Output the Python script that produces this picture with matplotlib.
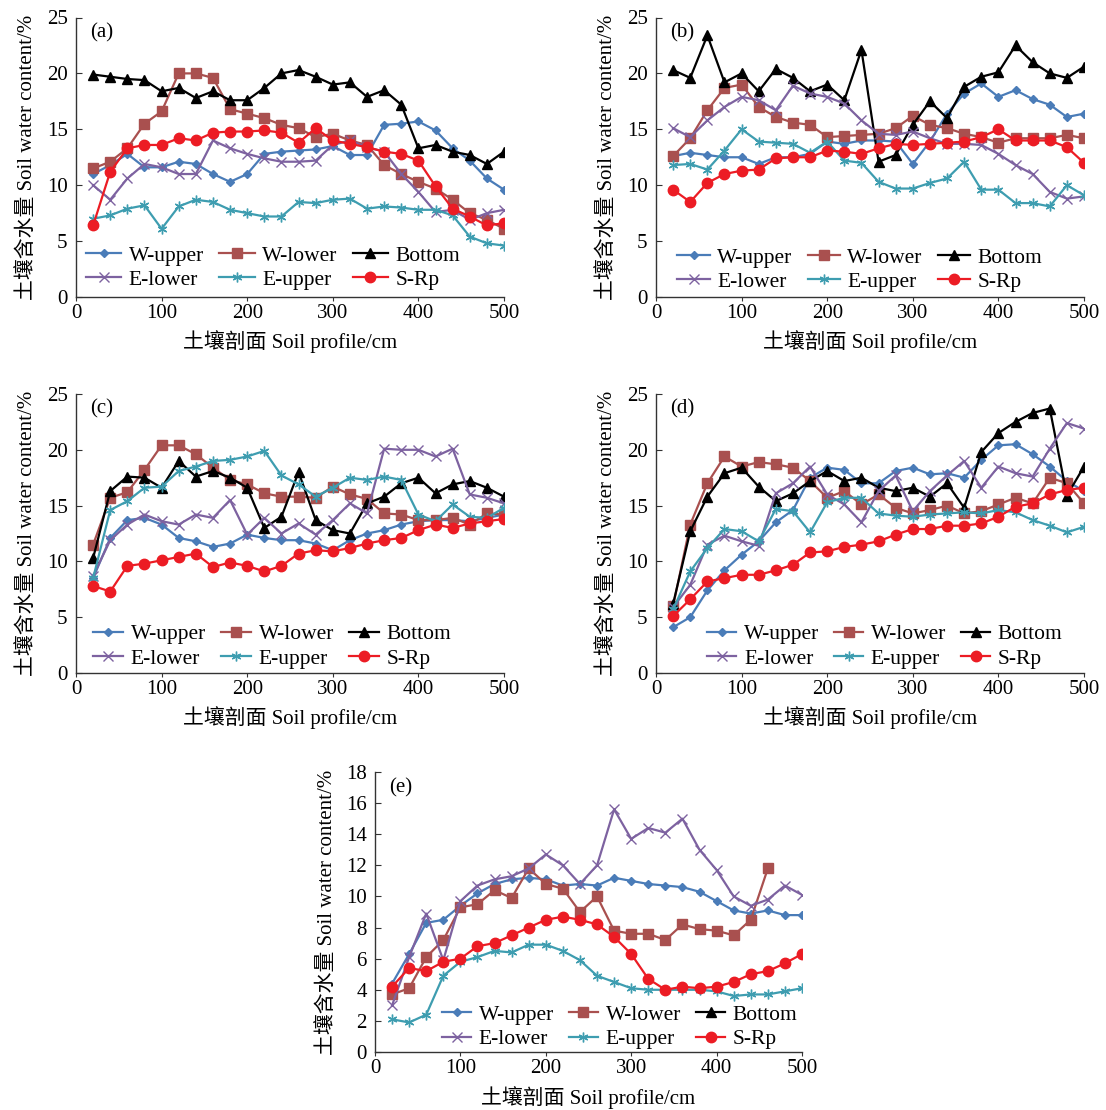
import matplotlib
matplotlib.use("Agg")
import matplotlib.pyplot as plt
import numpy as np

plt.rcParams['font.family'] = ['Liberation Serif', 'Noto Sans CJK SC', 'DejaVu Sans']
plt.rcParams['axes.unicode_minus'] = False

depth = [20, 40, 60, 80, 100, 120, 140, 160, 180, 200, 220, 240, 260, 280, 300,
         320, 340, 360, 380, 400, 420, 440, 460, 480, 500]

series_names = ["W-upper", "W-lower", "Bottom", "E-lower", "E-upper", "S-Rp"]

# Panel (a)
a_wu = [11.0, 11.8, 12.8, 11.6, 11.6, 12.1, 11.9, 11.0, 10.3, 11.0, 12.8, 13.0, 13.1, 13.2, 13.5, 12.7, 12.7, 15.4, 15.5, 15.7, 14.9, 13.3, 12.2, 10.6, 9.6]
a_wl = [11.5, 12.1, 13.3, 15.5, 16.6, 20.0, 20.0, 19.6, 16.8, 16.4, 16.0, 15.4, 15.1, 14.3, 14.6, 14.0, 13.6, 11.8, 11.0, 10.3, 9.7, 8.7, 7.5, 6.9, 6.1]
a_bt = [19.9, 19.7, 19.5, 19.4, 18.4, 18.7, 17.8, 18.4, 17.6, 17.6, 18.7, 20.0, 20.3, 19.7, 19.0, 19.2, 17.9, 18.5, 17.2, 13.3, 13.6, 13.0, 12.7, 11.9, 13.0]
a_el = [10.0, 8.7, 10.6, 11.9, 11.6, 11.0, 11.0, 14.0, 13.3, 12.8, 12.4, 12.1, 12.1, 12.2, 13.6, 14.0, 13.4, 13.0, 11.0, 9.4, 7.6, 7.8, 6.9, 7.5, 7.8]
a_eu = [7.0, 7.3, 7.9, 8.2, 6.1, 8.1, 8.7, 8.5, 7.8, 7.5, 7.2, 7.2, 8.5, 8.4, 8.7, 8.8, 7.9, 8.1, 8.0, 7.8, 7.8, 7.3, 5.4, 4.8, 4.6]
a_sr = [6.4, 11.2, 13.3, 13.6, 13.6, 14.2, 14.0, 14.7, 14.8, 14.8, 14.9, 14.7, 13.8, 15.1, 14.0, 13.7, 13.4, 13.0, 12.8, 12.2, 9.9, 7.9, 7.2, 6.4, 6.6]

# Panel (b)
b_wu = [12.6, 12.9, 12.7, 12.5, 12.5, 11.9, 12.5, 12.5, 12.8, 13.9, 13.7, 14.0, 14.0, 13.9, 11.9, 13.9, 16.4, 18.2, 19.1, 17.9, 18.5, 17.7, 17.2, 16.1, 16.4]
b_wl = [12.6, 14.2, 16.7, 18.7, 19.0, 17.0, 16.1, 15.6, 15.4, 14.3, 14.4, 14.5, 14.6, 15.1, 16.2, 15.4, 15.1, 14.6, 14.3, 13.8, 14.2, 14.2, 14.2, 14.5, 14.2]
b_bt = [20.3, 19.6, 23.4, 19.2, 20.0, 18.4, 20.4, 19.6, 18.4, 19.0, 17.6, 22.1, 12.1, 12.7, 15.4, 17.5, 16.0, 18.8, 19.7, 20.1, 22.5, 21.0, 20.0, 19.6, 20.6]
b_el = [15.1, 14.3, 15.8, 17.0, 17.9, 17.6, 16.7, 18.9, 18.2, 17.9, 17.3, 15.8, 14.6, 14.5, 14.8, 14.2, 13.7, 13.7, 13.6, 12.8, 11.8, 11.0, 9.4, 8.8, 9.0]
b_eu = [11.8, 11.9, 11.4, 13.1, 15.0, 13.9, 13.8, 13.7, 12.9, 13.9, 12.2, 12.0, 10.3, 9.7, 9.7, 10.2, 10.6, 12.1, 9.6, 9.6, 8.4, 8.4, 8.1, 10.0, 9.1]
b_sr = [9.6, 8.5, 10.2, 11.0, 11.3, 11.4, 12.4, 12.5, 12.5, 13.1, 13.0, 12.8, 13.3, 13.7, 13.6, 13.7, 13.8, 13.9, 14.3, 15.0, 14.0, 14.0, 14.0, 13.4, 12.0]

# Panel (c)
c_wu = [8.5, 12.1, 13.7, 13.9, 13.3, 12.1, 11.8, 11.3, 11.6, 12.4, 12.1, 11.9, 11.9, 11.6, 11.0, 11.9, 12.5, 12.8, 13.3, 13.6, 13.7, 13.7, 13.6, 13.9, 14.2]
c_wl = [11.5, 15.7, 16.2, 18.2, 20.4, 20.4, 19.6, 18.4, 17.3, 16.9, 16.1, 15.8, 15.8, 15.7, 16.7, 16.0, 15.6, 14.3, 14.2, 13.7, 13.7, 13.9, 13.3, 14.3, 14.2]
c_bt = [10.3, 16.3, 17.6, 17.5, 16.6, 19.0, 17.6, 18.1, 17.5, 16.6, 13.0, 14.0, 18.0, 13.7, 12.8, 12.5, 15.2, 15.8, 17.0, 17.5, 16.1, 16.9, 17.2, 16.6, 15.8]
c_el = [8.7, 11.9, 13.3, 14.2, 13.6, 13.3, 14.2, 13.9, 15.5, 12.4, 13.9, 12.5, 13.4, 12.4, 13.7, 15.2, 14.3, 20.1, 20.0, 20.0, 19.4, 20.1, 16.0, 15.7, 15.2]
c_eu = [8.5, 14.6, 15.4, 16.6, 16.7, 18.1, 18.5, 19.0, 19.1, 19.4, 19.9, 17.7, 16.9, 15.8, 16.6, 17.5, 17.3, 17.6, 17.3, 14.2, 13.6, 15.1, 14.0, 13.9, 14.8]
c_sr = [7.8, 7.3, 9.6, 9.8, 10.1, 10.4, 10.7, 9.5, 9.9, 9.6, 9.1, 9.6, 10.7, 11.0, 10.9, 11.2, 11.6, 11.9, 12.1, 12.8, 13.3, 13.0, 13.4, 13.6, 13.8]

# Panel (d)
d_wu = [4.1, 5.0, 7.4, 9.2, 10.6, 11.8, 13.5, 14.6, 17.5, 18.4, 18.2, 17.0, 17.0, 18.1, 18.4, 17.8, 17.9, 17.5, 19.1, 20.4, 20.5, 19.6, 18.5, 17.2, 16.3]
d_wl = [6.0, 13.3, 17.0, 19.4, 18.5, 18.9, 18.7, 18.4, 17.2, 15.7, 16.3, 15.1, 16.0, 14.8, 14.3, 14.6, 15.0, 14.3, 14.5, 15.1, 15.7, 15.2, 17.5, 17.0, 15.2]
d_bt = [6.2, 12.7, 15.8, 17.9, 18.4, 16.7, 15.4, 16.1, 17.2, 18.1, 17.2, 17.5, 16.6, 16.3, 16.6, 15.8, 17.0, 14.8, 19.8, 21.5, 22.5, 23.3, 23.7, 15.9, 18.5]
d_el = [5.9, 7.9, 11.5, 12.3, 11.8, 11.4, 16.1, 17.0, 18.5, 16.0, 15.1, 13.5, 16.3, 17.7, 14.5, 16.3, 17.7, 19.0, 16.6, 18.5, 17.9, 17.6, 20.1, 22.4, 21.9]
d_eu = [5.7, 9.1, 11.2, 12.9, 12.7, 11.8, 14.7, 14.5, 12.6, 15.3, 15.7, 15.7, 14.3, 14.1, 14.0, 14.2, 14.3, 14.4, 14.3, 14.6, 14.4, 13.7, 13.2, 12.6, 13.1]
d_sr = [5.1, 6.6, 8.2, 8.5, 8.8, 8.8, 9.2, 9.7, 10.8, 10.9, 11.3, 11.5, 11.8, 12.4, 12.9, 12.9, 13.2, 13.2, 13.4, 14.0, 14.9, 15.2, 16.0, 16.4, 16.6]

# Panel (e)
e_wu = [4.4, 6.3, 8.3, 8.5, 9.4, 10.2, 10.8, 11.1, 11.2, 11.1, 10.7, 10.8, 10.7, 11.2, 11.0, 10.8, 10.7, 10.6, 10.3, 9.7, 9.1, 8.9, 9.1, 8.8, 8.8]
e_wl = [3.7, 4.1, 6.1, 7.2, 9.3, 9.5, 10.4, 9.9, 11.8, 10.8, 10.5, 9.0, 10.0, 7.8, 7.6, 7.6, 7.2, 8.2, 7.9, 7.8, 7.5, 8.5, 11.8]
e_bt = []
e_el = [3.0, 6.1, 8.9, 5.9, 9.7, 10.7, 11.1, 11.3, 11.8, 12.7, 12.0, 10.8, 12.0, 15.6, 13.7, 14.4, 14.1, 15.0, 13.0, 11.7, 10.0, 9.4, 9.8, 10.7, 10.1]
e_eu = [2.1, 1.9, 2.4, 4.9, 5.8, 6.1, 6.5, 6.4, 6.9, 6.9, 6.5, 5.9, 4.9, 4.5, 4.1, 4.0, 4.0, 4.0, 4.0, 3.9, 3.6, 3.7, 3.7, 3.9, 4.1]
e_sr = [4.2, 5.4, 5.2, 5.8, 6.0, 6.8, 7.0, 7.5, 8.0, 8.5, 8.7, 8.5, 8.2, 7.4, 6.3, 4.7, 4.0, 4.2, 4.1, 4.2, 4.5, 5.0, 5.2, 5.7, 6.3]

panel_labels = ["(a)", "(b)", "(c)", "(d)", "(e)"]
x_ticks = [0, 100, 200, 300, 400, 500]
y_ticks_abcd = [0, 5, 10, 15, 20, 25]
y_ticks_e = [0, 2, 4, 6, 8, 10, 12, 14, 16, 18]
xlabel = "土壤剖面 Soil profile/cm"
ylabel = "土壤含水量 Soil water content/%"

styles = {
    "W-upper": dict(color="#4a7cb8", marker="D", ms=4.5, mec="#4a7cb8", mfc="#4a7cb8"),
    "W-lower": dict(color="#a9504f", marker="s", ms=6.5, mec="#a9504f", mfc="#a9504f"),
    "Bottom": dict(color="#000000", marker="^", ms=7, mec="#000000", mfc="#000000"),
    "E-lower": dict(color="#7d62a0", marker="x", ms=7, mec="#7d62a0", mew=1.0),
    "E-upper": dict(color="#3e9db0", marker=(6, 2, 0), ms=7, mec="#3e9db0", mew=1.0),
    "S-Rp": dict(color="#ec1c24", marker="o", ms=7.5, mec="#ec1c24", mfc="#ec1c24"),
}

# legend order so that rows read: W-upper W-lower Bottom / E-lower E-upper S-Rp
legend_order = ["W-upper", "E-lower", "W-lower", "E-upper", "Bottom", "S-Rp"]

W, H = 1106, 1110
fig = plt.figure(figsize=(W / 100, H / 100), dpi=100)
fig.patch.set_facecolor("white")


def make_ax(l, r, t, b):
    return fig.add_axes([l / W, 1 - b / H, (r - l) / W, (b - t) / H])


panels = [
    dict(box=(76, 504, 17.5, 297), data=[a_wu, a_wl, a_bt, a_el, a_eu, a_sr], ylim=25, yt=y_ticks_abcd, leg=(0.023, 0.025), hl=1.65),
    dict(box=(656, 1084, 17.5, 297), data=[b_wu, b_wl, b_bt, b_el, b_eu, b_sr], ylim=25, yt=y_ticks_abcd, leg=(0.05, 0.018), hl=1.5),
    dict(box=(76, 504, 394, 673), data=[c_wu, c_wl, c_bt, c_el, c_eu, c_sr], ylim=25, yt=y_ticks_abcd, leg=(0.04, 0.015), hl=1.4),
    dict(box=(656, 1084, 394, 673), data=[d_wu, d_wl, d_bt, d_el, d_eu, d_sr], ylim=25, yt=y_ticks_abcd, leg=(0.12, 0.015), hl=1.35),
    dict(box=(375, 802, 772, 1052), data=[e_wu, e_wl, e_bt, e_el, e_eu, e_sr], ylim=18, yt=y_ticks_e, leg=(0.157, 0.01), hl=1.35),
]

for p, lab in zip(panels, panel_labels):
    ax = make_ax(*p["box"])
    handles = {}
    for name, vals in zip(series_names, p["data"]):
        st = styles[name]
        (ln,) = ax.plot(depth[:len(vals)], vals, lw=1.6, label=name, **st)
        handles[name] = ln
    ax.set_xlim(0, 500)
    ax.set_ylim(0, p["ylim"])
    ax.set_xticks(x_ticks)
    ax.set_yticks(p["yt"])
    for s in ["top", "right"]:
        ax.spines[s].set_visible(False)
    for s in ["left", "bottom"]:
        ax.spines[s].set_color("#333333")
        ax.spines[s].set_linewidth(1.0)
    ax.tick_params(axis="y", direction="in", length=4, pad=6, labelsize=15, color="#333333")
    ax.tick_params(axis="x", direction="out", length=3, pad=2, labelsize=15, color="#333333")
    ax.set_xlabel(xlabel, fontsize=15)
    ax.set_ylabel(ylabel, fontsize=15)
    ax.yaxis.set_label_coords(-0.09, 0.5)
    ax.xaxis.set_label_coords(0.5, -0.12)
    ax.text(0.033, 0.945, lab, transform=ax.transAxes, fontsize=15, va="center", ha="left")
    ax.legend([handles[n] for n in legend_order], legend_order,
              loc="lower left", bbox_to_anchor=p["leg"], ncol=3, frameon=False,
              fontsize=15.5, handlelength=p["hl"], handletextpad=0.35, columnspacing=0.7,
              labelspacing=0.2, borderpad=0, borderaxespad=0, numpoints=1)

fig.savefig("out.png", dpi=100, facecolor="white")
